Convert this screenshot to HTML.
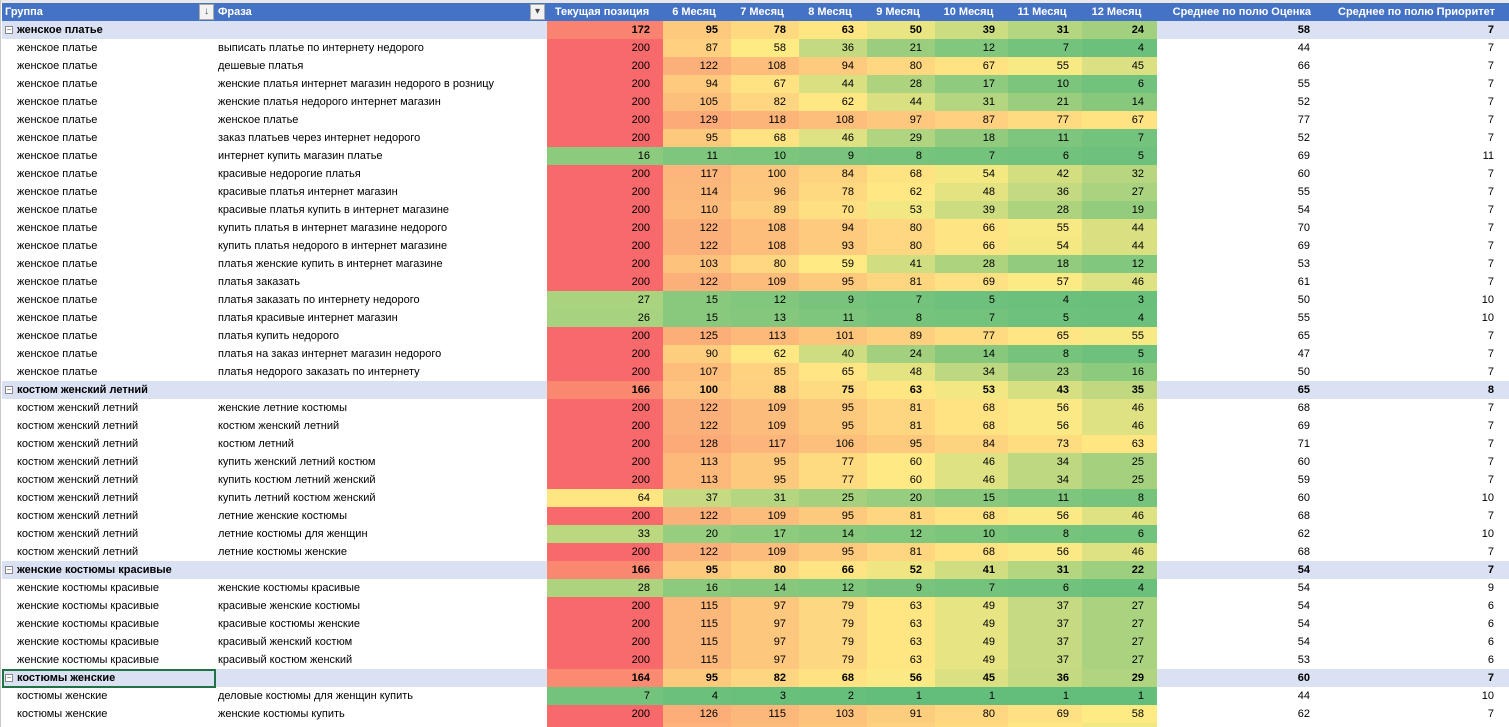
<!DOCTYPE html>
<html><head><meta charset="utf-8">
<style>
html,body{margin:0;padding:0;background:#fff;width:1509px;height:727px;overflow:hidden;font-family:"Liberation Sans","DejaVu Sans",sans-serif;font-size:11px;color:#000}
#wrap{position:absolute;left:0;top:0;width:1509px;height:727px;overflow:hidden}
.c{position:absolute;height:18px;line-height:18px;white-space:nowrap;overflow:hidden;box-sizing:border-box}
.hd{background:#4472C4;color:#fff;font-weight:bold;padding-left:3px}
.num{text-align:right;padding-right:13px}
.grp{background:#D9E1F2;font-weight:bold}
</style></head><body>
<div id="wrap">
<div style="position:absolute;left:0;top:0;width:1509px;height:3px;background:#e8e8e8"></div>
<div style="position:absolute;left:0;top:0;width:1px;height:727px;background:#c8c8c8"></div>
</div>
<script>
const headers = ["Группа","Фраза","Текущая позиция","6 Месяц","7 Месяц","8 Месяц","9 Месяц","10 Месяц","11 Месяц","12 Месяц","Среднее по полю Оценка","Среднее по полю Приоритет"];
const groupNames = ["женское платье","костюм женский летний","женские костюмы красивые","костюмы женские"];
const groupValues = [
[172,95,78,63,50,39,31,24,58,7],
[166,100,88,75,63,53,43,35,65,8],
[166,95,80,66,52,41,31,22,54,7],
[164,95,82,68,56,45,36,29,60,7]];
const phrases = [
["выписать платье по интернету недорого","дешевые платья","женские платья интернет магазин недорого в розницу","женские платья недорого интернет магазин","женское платье","заказ платьев через интернет недорого","интернет купить магазин платье","красивые недорогие платья","красивые платья интернет магазин","красивые платья купить в интернет магазине","купить платья в интернет магазине недорого","купить платья недорого в интернет магазине","платья женские купить в интернет магазине","платья заказать","платья заказать по интернету недорого","платья красивые интернет магазин","платья купить недорого","платья на заказ интернет магазин недорого","платья недорого заказать по интернету"],
["женские летние костюмы","костюм женский летний","костюм летний","купить женский летний костюм","купить костюм летний женский","купить летний костюм женский","летние женские костюмы","летние костюмы для женщин","летние костюмы женские"],
["женские костюмы красивые","красивые женские костюмы","красивые костюмы женские","красивый женский костюм","красивый костюм женский"],
["деловые костюмы для женщин купить","женские костюмы купить",""]];
const rowValues = [
[[200,87,58,36,21,12,7,4,44,7],[200,122,108,94,80,67,55,45,66,7],[200,94,67,44,28,17,10,6,55,7],[200,105,82,62,44,31,21,14,52,7],[200,129,118,108,97,87,77,67,77,7],[200,95,68,46,29,18,11,7,52,7],[16,11,10,9,8,7,6,5,69,11],[200,117,100,84,68,54,42,32,60,7],[200,114,96,78,62,48,36,27,55,7],[200,110,89,70,53,39,28,19,54,7],[200,122,108,94,80,66,55,44,70,7],[200,122,108,93,80,66,54,44,69,7],[200,103,80,59,41,28,18,12,53,7],[200,122,109,95,81,69,57,46,61,7],[27,15,12,9,7,5,4,3,50,10],[26,15,13,11,8,7,5,4,55,10],[200,125,113,101,89,77,65,55,65,7],[200,90,62,40,24,14,8,5,47,7],[200,107,85,65,48,34,23,16,50,7]],
[[200,122,109,95,81,68,56,46,68,7],[200,122,109,95,81,68,56,46,69,7],[200,128,117,106,95,84,73,63,71,7],[200,113,95,77,60,46,34,25,60,7],[200,113,95,77,60,46,34,25,59,7],[64,37,31,25,20,15,11,8,60,10],[200,122,109,95,81,68,56,46,68,7],[33,20,17,14,12,10,8,6,62,10],[200,122,109,95,81,68,56,46,68,7]],
[[28,16,14,12,9,7,6,4,54,9],[200,115,97,79,63,49,37,27,54,6],[200,115,97,79,63,49,37,27,54,6],[200,115,97,79,63,49,37,27,54,6],[200,115,97,79,63,49,37,27,53,6]],
[[7,4,3,2,1,1,1,1,44,10],[200,126,115,103,91,80,69,58,62,7],[200,120,110,98,86,75,64,53,60,7]]];
const scaleMin = 1, scaleMid = 58, scaleMax = 200;

const colX = [2,215,547,663,731,799,867,935,1008,1082,1157,1325,1509];
const wrap = document.getElementById('wrap');
const ROW0 = 21, RH = 18;
function mix(a,b,t){return a.map((v,i)=>Math.round(v+(b[i]-v)*t));}
function heat(v){
  const G=[99,190,123],Y=[255,235,132],R=[248,105,107];
  let c;
  if(v<=scaleMid){c=mix(G,Y,Math.max(0,(v-scaleMin)/(scaleMid-scaleMin)));}
  else{c=mix(Y,R,Math.min(1,(v-scaleMid)/(scaleMax-scaleMid)));}
  return 'rgb('+c.join(',')+')';
}
function cell(x,y,w,cls,text){
  const d=document.createElement('div');
  d.className='c '+cls;
  d.style.left=x+'px';d.style.top=y+'px';d.style.width=w+'px';
  d.textContent=text;
  wrap.appendChild(d);
  return d;
}
// header
headers.forEach((h,i)=>{
  const d=cell(colX[i],3,colX[i+1]-colX[i],'hd'+(i>=2?' num':''),h);
  if(i>=2){d.style.paddingRight=(i>=10?'14px':'6px');d.style.textAlign=(i>=2&&i<10)?'center':'right';d.style.paddingLeft='0';}
  
  
});
// filter buttons
[[199,'↓'],[530,'▾']].forEach(([x,g],k)=>{
  const b=document.createElement('div');
  b.style.cssText='position:absolute;left:'+x+'px;top:4px;width:15px;height:16px;background:#f2f2f2;border:1px solid #aaa;box-sizing:border-box;color:#444;font-size:10px;line-height:14px;text-align:center';
  b.textContent=g;
  
  
  wrap.appendChild(b);
});
let r=0;
groupNames.forEach((gname,gi)=>{
  let y=ROW0+r*RH;
  const gbg=cell(colX[0],y,colX[2]-colX[0],'grp','');
  
  
  const gt=cell(colX[0],y,colX[2]-colX[0],'',' ');
  gt.style.fontWeight='bold';gt.style.paddingLeft='15px';
  gt.textContent=gname;
  
  
  const ic=document.createElement('div');
  ic.style.cssText='position:absolute;left:5px;top:'+(y+5)+'px;width:8px;height:8px;border:1px solid #888;box-sizing:border-box;font-size:8px;line-height:6px;text-align:center;color:#555;background:#fff';
  ic.textContent='−';
  
  
  wrap.appendChild(ic);
  groupValues[gi].forEach((v,k)=>{
    const ci=k+2;
    const d=cell(colX[ci],y,colX[ci+1]-colX[ci],'num',v);
    d.style.fontWeight='bold';
    d.style.background=k<8?heat(v):'#D9E1F2';
    if(k>=8)d.style.paddingRight='15px';
    
    
  });
  r++;
  phrases[gi].forEach((p,pi)=>{
    y=ROW0+r*RH;
    const a=cell(colX[0],y,colX[1]-colX[0],'',gname);
    a.style.paddingLeft='15px';
    
    
    const b=cell(colX[1],y,colX[2]-colX[1],'',p);
    b.style.paddingLeft='3px';
    
    
    rowValues[gi][pi].forEach((v,k)=>{
      const ci=k+2;
      const d=cell(colX[ci],y,colX[ci+1]-colX[ci],'num',v);
      if(k<8)d.style.background=heat(v);
      if(k>=8)d.style.paddingRight='15px';
      
      
    });
    r++;
  });
});
// selected cell
const sel=document.createElement('div');
sel.style.cssText='position:absolute;left:2px;top:'+(ROW0+36*RH)+'px;width:214px;height:19px;border:2px solid #217346;box-sizing:border-box';


wrap.appendChild(sel);
</script>
</body></html>
